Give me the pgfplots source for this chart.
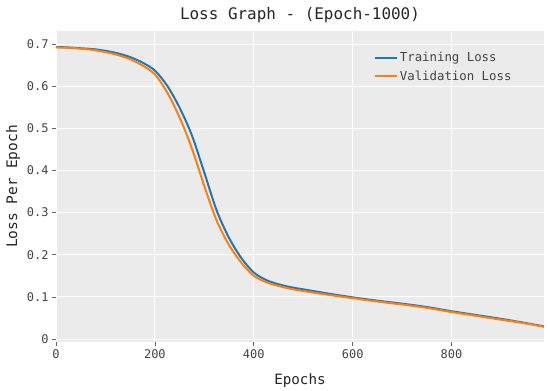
\documentclass[border=0pt]{standalone}
\usepackage{fontspec}
\setmainfont{DejaVu Sans Mono}
\usepackage{pgfplots}
\pgfplotsset{compat=1.18}
\definecolor{tblue}{HTML}{1F77B4}
\definecolor{torange}{HTML}{FF7F0E}
\definecolor{bgray}{HTML}{EBEBEB}
\definecolor{txt}{HTML}{444444}
\begin{document}
\begin{tikzpicture}
\useasboundingbox (-56bp,-49bp) rectangle (494bp,342bp);
\begin{axis}[
  at={(0,0)}, anchor=south west,
  scale only axis, width=488bp, height=311bp,
  xmin=0, xmax=987, ymin=-0.007, ymax=0.731,
  axis background/.style={fill=bgray},
  axis line style={draw=none},
  grid=major, major grid style={white, line width=1.1pt},
  xtick={0,200,400,600,800}, xticklabels={0,200,400,600,800},
  ytick={0,0.1,0.2,0.3,0.4,0.5,0.6,0.7},
  yticklabels={0,0.1,0.2,0.3,0.4,0.5,0.6,0.7},
  tick align=outside, major tick length=4bp,
  tick style={black!60, line width=0.6pt},
  xtick pos=bottom, ytick pos=left,
  ticklabel style={font=\fontsize{12}{14}\selectfont, text=txt},
  title={Loss Graph - (Epoch-1000)},
  title style={at={(axis description cs:0.5,1.032)}, anchor=center, font=\fontsize{16}{19}\selectfont, text=black!85},
  xlabel={Epochs},
  xlabel style={at={(axis description cs:0.5,-0.123)}, anchor=center, font=\fontsize{14.3}{17}\selectfont, text=black!85},
  ylabel={Loss Per Epoch},
  ylabel style={at={(axis description cs:-0.088,0.5)}, anchor=center, font=\fontsize{14.6}{17}\selectfont, text=black!85},
  legend style={at={(0.645,0.945)}, anchor=north west, draw=none, fill=none,
    font=\fontsize{12.4}{15}\selectfont, text=txt, row sep=3.5bp,
    /tikz/every even column/.append style={column sep=1bp}},
  legend cell align=left,
  legend image code/.code={\draw[#1] (0bp,0bp) -- (22bp,0bp);},
]
\addplot[tblue, line width=2pt, smooth, tension=0.5] coordinates {
(0,0.693) (25,0.692) (50,0.690) (75,0.688) (100,0.684) (125,0.678) (150,0.669)
(175,0.656) (200,0.637) (225,0.601) (250,0.549) (275,0.483) (300,0.395)
(325,0.305) (350,0.240) (375,0.192) (400,0.158) (425,0.140) (450,0.130)
(475,0.123) (500,0.118) (550,0.108) (600,0.099) (650,0.091) (700,0.084)
(750,0.076) (800,0.066) (850,0.057) (900,0.048) (950,0.038) (987,0.030)
};
\addlegendentry{Training Loss}
\addplot[torange, line width=2pt, smooth, tension=0.5] coordinates {
(0,0.692) (25,0.691) (50,0.689) (75,0.686) (100,0.681) (125,0.674) (150,0.664)
(175,0.649) (200,0.628) (225,0.585) (250,0.526) (275,0.452) (300,0.363)
(325,0.281) (350,0.223) (375,0.181) (400,0.150) (425,0.135) (450,0.126)
(475,0.119) (500,0.114) (550,0.105) (600,0.097) (650,0.089) (700,0.082)
(750,0.074) (800,0.064) (850,0.055) (900,0.046) (950,0.037) (987,0.029)
};
\addlegendentry{Validation Loss}
\end{axis}
\end{tikzpicture}
\end{document}
